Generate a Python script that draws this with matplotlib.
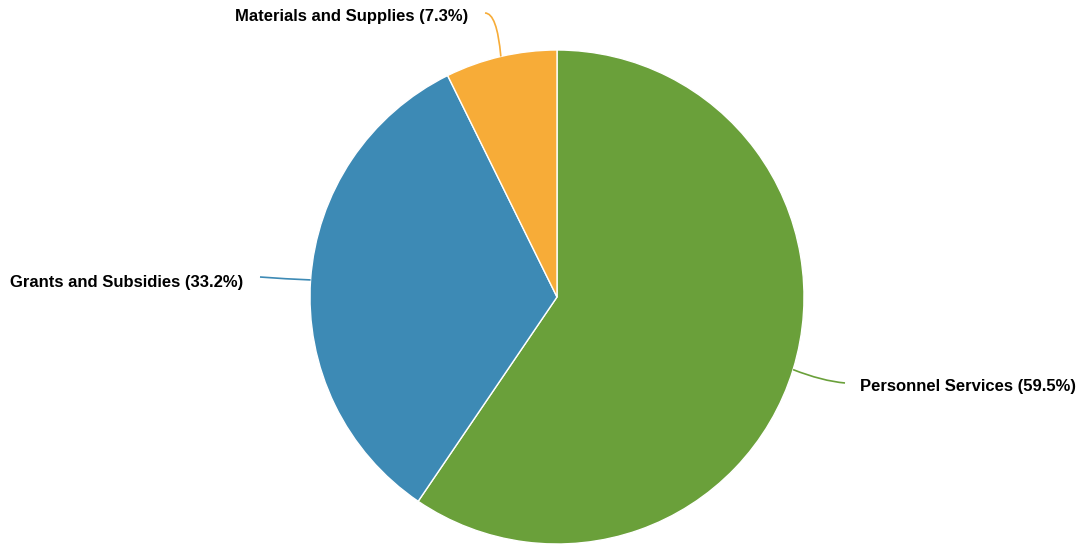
import matplotlib.pyplot as plt
import numpy as np
from matplotlib.path import Path
from matplotlib.patches import PathPatch

plt.rcParams["font.family"] = ["Liberation Sans", "DejaVu Sans"]

labels = ["Personnel Services", "Grants and Subsidies", "Materials and Supplies"]
shares = [59.5, 33.2, 7.3]
colors = ["#6aa03a", "#3d8ab5", "#f7ac38"]

W, H = 1081, 544
cx, cy, r = 557, 247, 247

fig = plt.figure(figsize=(W / 100, H / 100), dpi=100)
ax = fig.add_axes([0, 0, 1, 1])

wedges, _ = ax.pie(shares, colors=colors, startangle=90, counterclock=False,
                   center=(cx, cy), radius=r, frame=True,
                   wedgeprops=dict(edgecolor="white", linewidth=1))
ax.set_xlim(0, W)
ax.set_ylim(0, H)
ax.set_aspect("equal")
ax.axis("off")

# leader line end points and label anchors (pixel coords, y measured from bottom)
ends = [(845, H - 383), (260, H - 277), (485, H - 13)]
ctrls = [(822, H - 381), (286, H - 279), (497, H - 13)]
text_pos = [(860, H - 386, "left"), (243, H - 283, "right"), (468, H - 17, "right")]

for w, lab, s, col, end, ctrl, (tx, ty, ha) in zip(wedges, labels, shares, colors,
                                                    ends, ctrls, text_pos):
    mid = np.deg2rad((w.theta1 + w.theta2) / 2)
    start = (cx + r * np.cos(mid), cy + r * np.sin(mid))
    path = Path([start, ctrl, end], [Path.MOVETO, Path.CURVE3, Path.CURVE3])
    ax.add_patch(PathPatch(path, facecolor="none", edgecolor=col, linewidth=1.2))
    ax.text(tx, ty, f"{lab} ({s}%)", ha=ha, va="center", fontsize=12,
            fontweight="bold", color="black")

fig.savefig("out.png", dpi=100)
